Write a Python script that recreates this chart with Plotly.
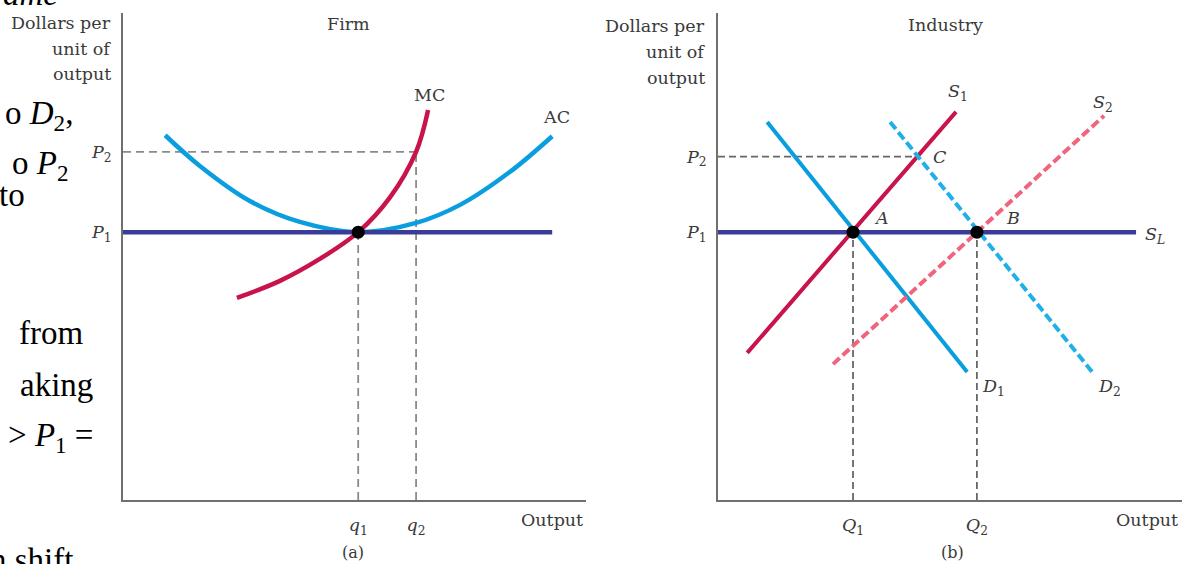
import plotly.graph_objects as go

# ---- panel (a): firm ----
firm_ac_q = [0.91, 1.66, 2.74, 3.82, 5.08, 6.33, 7.28, 8.36, 9.27]
firm_ac_cost = [7.49, 6.86, 6.14, 5.71, 5.50, 5.69, 6.06, 6.74, 7.47]
firm_mc_q = [2.46, 3.39, 4.25, 5.08, 5.77, 6.33, 6.59]
firm_mc_cost = [4.15, 4.50, 4.95, 5.50, 6.22, 7.15, 8.01]
firm_q1, firm_q2 = 5.08, 6.33
firm_p1, firm_p2 = 5.5, 7.15
firm_p1_end = 9.27

# ---- panel (b): industry ----
ind_q1, ind_q2 = 2.91, 5.58
ind_p1, ind_p2 = 5.5, 7.05
ind_c_q = 4.29
sl_end = 9.01
d1_q, d1_p = [1.06, 5.37], [7.76, 2.63]
d2_q, d2_p = [3.71, 8.08], [7.76, 2.61]
s1_q, s1_p = [0.63, 5.13], [3.02, 7.97]
s2_q, s2_p = [2.48, 8.32], [2.79, 7.89]

p_ticks = ["<i>P</i><sub>1</sub>", "<i>P</i><sub>2</sub>"]
q_ticks = ["<i>q</i><sub>1</sub>", "<i>q</i><sub>2</sub>"]
Q_ticks = ["<i>Q</i><sub>1</sub>", "<i>Q</i><sub>2</sub>"]

# bits of slide text showing at the left edge
slide_text = ["<i>ame</i>", "o <i>D</i><sub>2</sub>,", "o <i>P</i><sub>2</sub>", "to",
              "from", "aking", "> <i>P</i><sub>1</sub> =", "n shift"]
slide_right = [60, 75, 70, 27, 85, 95, 95, 75]
slide_mid = [-6, 115, 165, 195, 333, 385, 437, 560]

RED = "#c8144a"
BLUE = "#0a9ede"
NAVY = "#3b3b98"
PINK = "#f0647c"
LBLUE = "#1fb0ea"
TXT = "#3a3a3a"
FONT = "DejaVu Serif"
FS = 17.5

W, H = 1182, 564

fig = go.Figure()

def line(x, y, color, width, dash="solid", xa="x", ya="y", shape="linear"):
    fig.add_trace(go.Scatter(x=x, y=y, mode="lines", xaxis=xa, yaxis=ya,
                             line=dict(color=color, width=width, dash=dash, shape=shape),
                             hoverinfo="skip"))

# firm guides
line([0, firm_q2], [firm_p2, firm_p2], "#8a8a8a", 1.8, "8px,5px")
line([firm_q2, firm_q2], [0, firm_p2], "#8a8a8a", 1.8, "8px,5px")
line([firm_q1, firm_q1], [0, firm_p1], "#8a8a8a", 1.8, "8px,5px")
line(firm_ac_q, firm_ac_cost, BLUE, 4.5, shape="spline")
line([0, firm_p1_end], [firm_p1, firm_p1], NAVY, 4.5)
line(firm_mc_q, firm_mc_cost, RED, 4.5, shape="spline")
fig.add_trace(go.Scatter(x=[firm_q1], y=[firm_p1], mode="markers", xaxis="x", yaxis="y",
                         marker=dict(color="black", size=13), hoverinfo="skip"))

# industry guides
line([0, ind_c_q], [ind_p2, ind_p2], "#666666", 1.6, "7px,4px", "x2", "y2")
line([ind_q1, ind_q1], [0, ind_p1], "#555555", 1.6, "7px,4px", "x2", "y2")
line([ind_q2, ind_q2], [0, ind_p1], "#555555", 1.6, "7px,4px", "x2", "y2")
line([0, sl_end], [ind_p1, ind_p1], NAVY, 4.5, xa="x2", ya="y2")
line(d1_q, d1_p, BLUE, 4, xa="x2", ya="y2")
line(s1_q, s1_p, RED, 4, xa="x2", ya="y2")
line(s2_q, s2_p, PINK, 4, "9px,4px", "x2", "y2")
line(d2_q, d2_p, LBLUE, 4, "9px,4px", "x2", "y2")
fig.add_trace(go.Scatter(x=[ind_q1, ind_q2], y=[ind_p1, ind_p1], mode="markers",
                         xaxis="x2", yaxis="y2", marker=dict(color="black", size=13),
                         hoverinfo="skip"))

tickfont = dict(family=FONT, size=FS, color=TXT)
ax = dict(range=[0, 10], showgrid=False, zeroline=False, showline=True, linecolor="#707070",
          linewidth=2, ticks="", tickfont=tickfont, fixedrange=True)

fig.update_layout(
    width=W, height=H, margin=dict(l=0, r=0, t=0, b=0),
    paper_bgcolor="white", plot_bgcolor="white", showlegend=False,
    xaxis=dict(ax, domain=[123 / W, 586 / W], anchor="y",
               tickvals=[firm_q1, firm_q2], ticktext=q_ticks, ticklabelstandoff=8),
    yaxis=dict(ax, domain=[64 / H, 551 / H], anchor="x",
               tickvals=[firm_p1, firm_p2], ticktext=p_ticks, ticklabelstandoff=6),
    xaxis2=dict(ax, domain=[718 / W, 1.0], anchor="y2",
                tickvals=[ind_q1, ind_q2], ticktext=Q_ticks, ticklabelstandoff=8),
    yaxis2=dict(ax, domain=[64 / H, 551 / H], anchor="x2",
                tickvals=[ind_p1, ind_p2], ticktext=p_ticks, ticklabelstandoff=6),
)

def note(text, x, y, xref="x", yref="y", xanchor="center", size=FS, color=TXT, family=FONT):
    fig.add_annotation(text=text, x=x, y=y, xref=xref, yref=yref, showarrow=False,
                       xanchor=xanchor, yanchor="middle",
                       font=dict(family=family, size=size, color=color))

# curve labels, panel (a)
note("Firm", 4.88, 9.77)
note("MC", 6.61, 8.32)
note("AC", 9.37, 7.86)
# curve labels, panel (b)
note("Industry", 4.91, 9.75, "x2", "y2")
note("<i>S</i><sub>1</sub>", 5.17, 8.36, "x2", "y2")
note("<i>S</i><sub>2</sub>", 8.30, 8.15, "x2", "y2")
note("<i>C</i>", 4.78, 7.04, "x2", "y2")
note("<i>A</i>", 3.53, 5.79, "x2", "y2")
note("<i>B</i>", 6.36, 5.79, "x2", "y2")
note("<i>S</i><sub><i>L</i></sub>", 9.42, 5.44, "x2", "y2")
note("<i>D</i><sub>1</sub>", 5.93, 2.30, "x2", "y2")
note("<i>D</i><sub>2</sub>", 8.43, 2.32, "x2", "y2")

# axis titles and panel captions (paper coords)
for txt, yy in zip(["Dollars per", "unit of", "output"], [23, 49, 74]):
    note(txt, 113 / W, 1 - yy / H, "paper", "paper", "right")
for txt, yy in zip(["Dollars per", "unit of", "output"], [26, 52, 78]):
    note(txt, 707 / W, 1 - yy / H, "paper", "paper", "right")
note("Output", 585 / W, 1 - 520 / H, "paper", "paper", "right")
note("Output", 1180 / W, 1 - 520 / H, "paper", "paper", "right")
note("(a)", 353 / W, 1 - 552 / H, "paper", "paper", size=16)
note("(b)", 952 / W, 1 - 552 / H, "paper", "paper", size=16)

for txt, xr, ym in zip(slide_text, slide_right, slide_mid):
    note(txt, xr / W, 1 - ym / H, "paper", "paper", "right", size=33, color="black",
         family="Liberation Serif")

# page has a default 8px body margin; drop it so the figure sits at the window corner
fig.write_html("out.html", config={"displayModeBar": False},
               post_script="document.body.style.margin='0';")
